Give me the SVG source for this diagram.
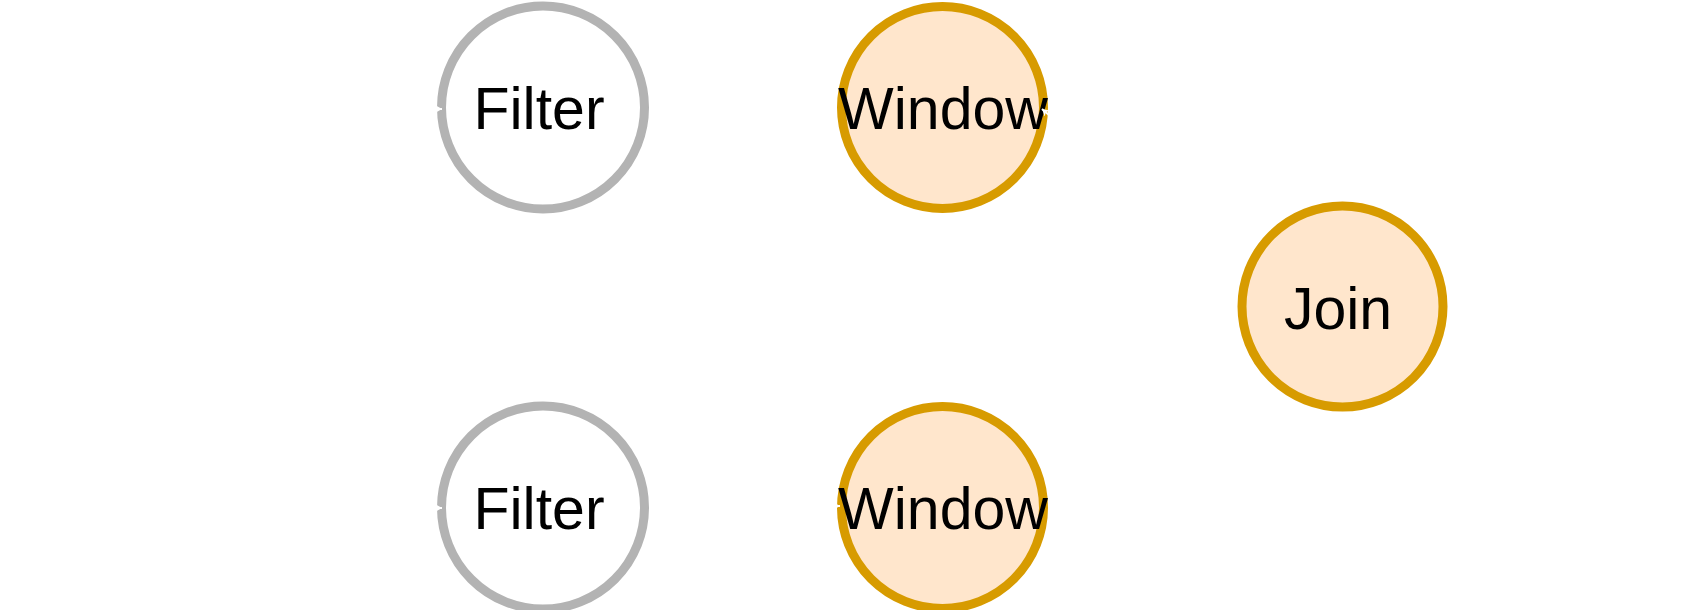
<svg xmlns="http://www.w3.org/2000/svg" width="1685" height="610" viewBox="0 0 1685 610">
  <style>
    .gray { fill: #ffffff; stroke: #b3b3b3; stroke-width: 9; }
    .orange { fill: #ffe6cc; stroke: #d79b00; stroke-width: 9; }
    .label { font-family: "Liberation Sans", Arial, sans-serif; font-size: 59px; fill: #000000; text-anchor: middle; }
    .edge { fill: none; stroke: #ffffff; stroke-width: 2; }
  </style>
  <defs>
    <marker id="arrow" markerWidth="8" markerHeight="8" refX="7" refY="4" orient="auto" markerUnits="userSpaceOnUse">
      <path d="M0,0 L7,4 L0,8 L2,4 Z" fill="#ffffff"/>
    </marker>
  </defs>
  <rect x="0" y="0" width="1685" height="610" fill="#ffffff"/>
  <g id="node-filter-top">
    <circle class="gray" cx="543" cy="107.5" r="101.5"/>
    <text class="label" x="539" y="129">Filter</text>
  </g>
  <g id="node-filter-bottom">
    <circle class="gray" cx="543" cy="507.5" r="101.5"/>
    <text class="label" x="539" y="529">Filter</text>
  </g>
  <g id="node-window-top">
    <circle class="orange" cx="942.5" cy="107.5" r="101"/>
    <text class="label" x="943" y="129">Window</text>
  </g>
  <g id="node-window-bottom">
    <circle class="orange" cx="942.5" cy="507.5" r="101"/>
    <text class="label" x="943" y="529">Window</text>
  </g>
  <g id="node-join">
    <circle class="orange" cx="1342.5" cy="306.5" r="100.5"/>
    <text class="label" x="1338" y="329">Join</text>
  </g>
  <g id="connectors">
    <path class="edge" d="M0,108 L442,109" marker-end="url(#arrow)"/>
    <path class="edge" d="M0,507 L442,508" marker-end="url(#arrow)"/>
    <path class="edge" d="M700,507 L840,506" marker-end="url(#arrow)"/>
    <path class="edge" d="M1240,280 L1042,109" marker-end="url(#arrow)"/>
  </g>
</svg>
